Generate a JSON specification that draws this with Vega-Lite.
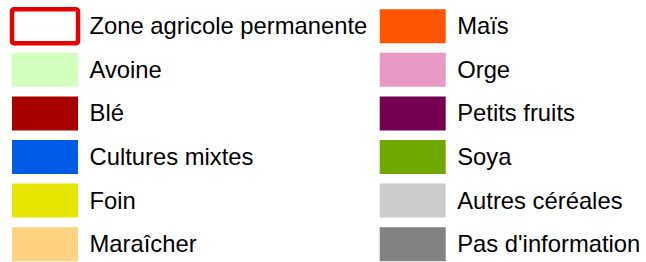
{
  "$schema": "https://vega.github.io/schema/vega-lite/v6.json",
  "autosize": {"type": "fit", "contains": "padding"},
  "width": 646,
  "height": 262,
  "padding": 0,
  "background": "white",
  "config": {"view": {"stroke": null}},
  "data": {
    "values": [
      {"label": "Zone agricole permanente", "col": 0, "row": 0, "kind": "outline"},
      {"label": "Avoine", "col": 0, "row": 1, "kind": "fill"},
      {"label": "Blé", "col": 0, "row": 2, "kind": "fill"},
      {"label": "Cultures mixtes", "col": 0, "row": 3, "kind": "fill"},
      {"label": "Foin", "col": 0, "row": 4, "kind": "fill"},
      {"label": "Maraîcher", "col": 0, "row": 5, "kind": "fill"},
      {"label": "Maïs", "col": 1, "row": 0, "kind": "fill"},
      {"label": "Orge", "col": 1, "row": 1, "kind": "fill"},
      {"label": "Petits fruits", "col": 1, "row": 2, "kind": "fill"},
      {"label": "Soya", "col": 1, "row": 3, "kind": "fill"},
      {"label": "Autres céréales", "col": 1, "row": 4, "kind": "fill"},
      {"label": "Pas d'information", "col": 1, "row": 5, "kind": "fill"}
    ]
  },
  "encoding": {
    "x": {"field": "col", "type": "quantitative", "axis": null,
          "scale": {"domain": [-0.1224, 1.6345], "nice": false, "zero": false}},
    "y": {"field": "row", "type": "quantitative", "axis": null,
          "scale": {"domain": [-0.6009, 5.3401], "nice": false, "zero": false, "reverse": true}}
  },
  "layer": [
    {
      "transform": [{"filter": "datum.kind === 'fill'"}],
      "mark": {"type": "rect", "width": 66, "height": 34},
      "encoding": {
        "color": {"field": "label", "type": "nominal", "legend": null,
          "scale": {
            "domain": ["Avoine", "Blé", "Cultures mixtes", "Foin", "Maraîcher", "Maïs", "Orge", "Petits fruits", "Soya", "Autres céréales", "Pas d'information"],
            "range": ["#d3ffbe", "#a80000", "#005ce6", "#e6e600", "#ffd37f", "#ff5500", "#e899c4", "#730050", "#70a800", "#cccccc", "#828282"]
          }}
      }
    },
    {
      "transform": [{"filter": "datum.kind === 'outline'"}],
      "mark": {"type": "rect", "width": 66, "height": 34, "fill": "white", "stroke": "#e60000", "strokeWidth": 4.5, "cornerRadius": 2}
    },
    {
      "mark": {"type": "text", "align": "left", "baseline": "middle", "dx": 44.5, "dy": 1, "font": "Liberation Sans", "fontSize": 23.8, "color": "black"},
      "encoding": {"text": {"field": "label", "type": "nominal"}}
    }
  ]
}
